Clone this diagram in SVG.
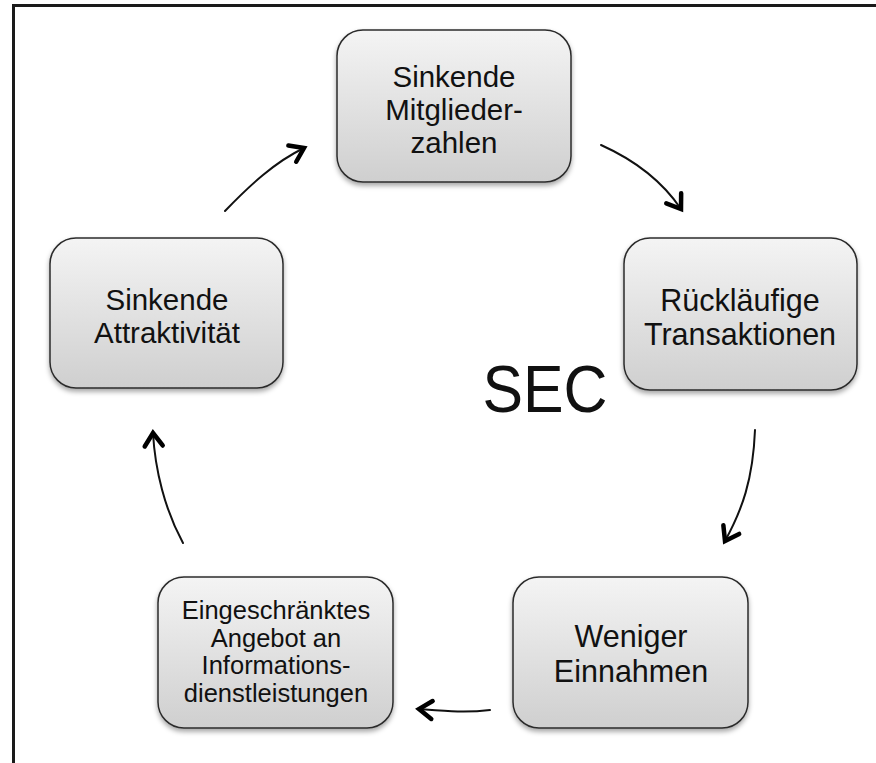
<svg xmlns="http://www.w3.org/2000/svg" width="876" height="763" viewBox="0 0 876 763">
<defs>
<linearGradient id="g" x1="0" y1="0" x2="0" y2="1">
<stop offset="0" stop-color="#f4f4f4"/>
<stop offset="1" stop-color="#cfcfcf"/>
</linearGradient>
<filter id="sh" x="-10%" y="-10%" width="120%" height="130%">
<feDropShadow dx="0" dy="3" stdDeviation="2.5" flood-color="#000" flood-opacity="0.35"/>
</filter>
<marker id="ah" markerUnits="userSpaceOnUse" markerWidth="30" markerHeight="30" refX="0" refY="0" viewBox="-20 -15 30 30" orient="auto">
<path d="M-13,-9 L0,0 L-13,9" fill="none" stroke="#000" stroke-width="4.5" stroke-linecap="round" stroke-linejoin="miter"/>
</marker>
<style>
.box{fill:url(#g);stroke:#2b2b2b;stroke-width:1.5;filter:url(#sh)}
.t{font-family:"Liberation Sans",Arial,sans-serif;fill:#111;text-anchor:middle}
.c{fill:none;stroke:#111;stroke-width:2;stroke-linecap:round;marker-end:url(#ah)}
</style>
</defs>
<rect width="876" height="763" fill="#fff"/>
<g id="frame" stroke="#1a1a1a" stroke-width="3" fill="none">
<line x1="12" y1="5.5" x2="876" y2="5.5"/>
<line x1="13.5" y1="4" x2="13.5" y2="763"/>
</g>
<g id="connectors">
<path class="c" d="M225,211 C250,185 275,162 304,148"/>
<path class="c" d="M601,145 C630,158 660,178 681,209"/>
<path class="c" d="M755,430 C753,480 742,510 725,541"/>
<path class="c" d="M490,710 C465,713 445,711 419,709"/>
<path class="c" d="M183,543 C165,510 155,470 153,433"/>
</g>
<g id="n1">
<rect class="box" x="337" y="30" width="234" height="152" rx="26"/>
<text class="t" font-size="29.5" x="454" y="87">Sinkende</text>
<text class="t" font-size="29.5" x="454" y="120">Mitglieder-</text>
<text class="t" font-size="29.5" x="454" y="153">zahlen</text>
</g>
<g id="n2">
<rect class="box" x="624" y="238" width="233" height="152" rx="26"/>
<text class="t" font-size="30.5" x="740" y="311">Rückläufige</text>
<text class="t" font-size="30.5" x="740" y="345">Transaktionen</text>
</g>
<g id="n3">
<rect class="box" x="513" y="577" width="235" height="151" rx="26"/>
<text class="t" font-size="30.5" x="631" y="647">Weniger</text>
<text class="t" font-size="30.5" x="631" y="682">Einnahmen</text>
</g>
<g id="n4">
<rect class="box" x="158" y="577" width="235" height="151" rx="26"/>
<text class="t" font-size="25.5" x="276" y="619">Eingeschränktes</text>
<text class="t" font-size="25.5" x="276" y="646.5">Angebot an</text>
<text class="t" font-size="25.5" x="276" y="674">Informations-</text>
<text class="t" font-size="25.5" x="276" y="701.5">dienstleistungen</text>
</g>
<g id="n5">
<rect class="box" x="50" y="238" width="233" height="150" rx="26"/>
<text class="t" font-size="29.5" x="167" y="310">Sinkende</text>
<text class="t" font-size="29.5" x="167" y="343">Attraktivität</text>
</g>
<g id="center">
<text class="t" font-size="66" x="545" y="412" textLength="125" lengthAdjust="spacingAndGlyphs">SEC</text>
</g>
</svg>
